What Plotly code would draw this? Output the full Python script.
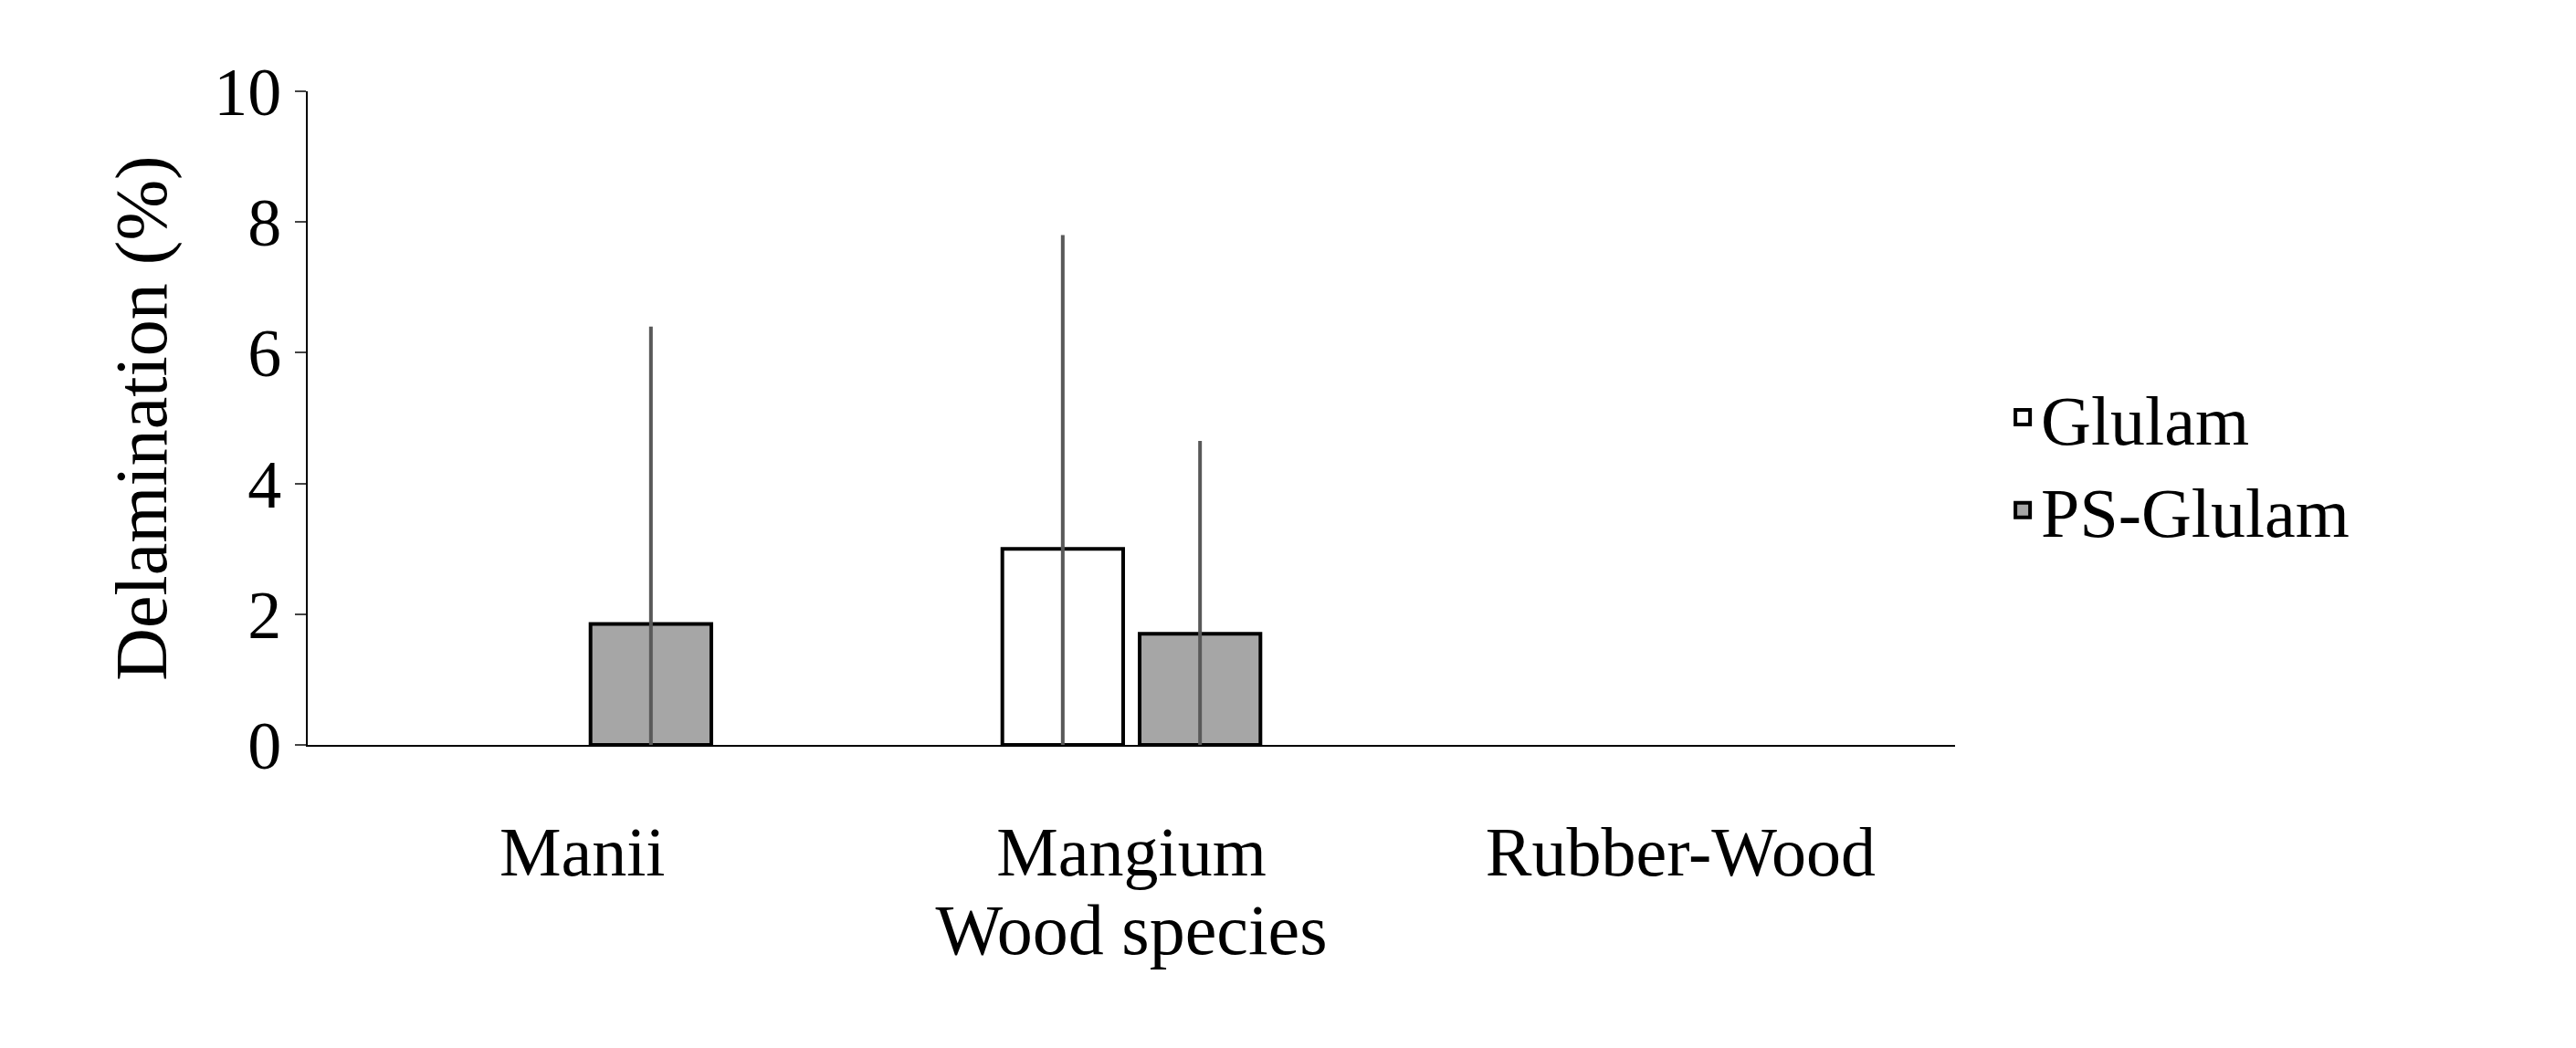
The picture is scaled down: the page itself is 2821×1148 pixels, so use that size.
import plotly.graph_objects as go

species = ["Manii", "Mangium", "Rubber-Wood"]
glulam = [None, 3.0, None]
glulam_err = [0, 4.8, 0]
ps_glulam = [1.85, 1.7, None]
ps_glulam_err = [4.55, 2.95, 0]

font = "Liberation Serif"
err_color = "#595959"

fig = go.Figure()
fig.add_trace(go.Bar(
    x=species, y=glulam, name="Glulam", showlegend=False,
    marker=dict(color="white", line=dict(color="black", width=4)),
    error_y=dict(type="data", array=glulam_err, symmetric=False,
                 arrayminus=[v or 0 for v in glulam],
                 color=err_color, thickness=4, width=0),
))
fig.add_trace(go.Bar(
    x=species, y=ps_glulam, name="PS-Glulam", showlegend=False,
    marker=dict(color="#a6a6a6", line=dict(color="black", width=4)),
    error_y=dict(type="data", array=ps_glulam_err, symmetric=False,
                 arrayminus=[v or 0 for v in ps_glulam],
                 color=err_color, thickness=4, width=0),
))
# legend entries with bigger square swatches
for name, col in [("Glulam", "white"), ("PS-Glulam", "#a6a6a6")]:
    fig.add_trace(go.Scatter(
        x=[None], y=[None], mode="markers", name=name,
        marker=dict(symbol="square", size=34, color=col, line=dict(color="black", width=4)),
    ))

fig.update_layout(
    width=2821, height=1148,
    paper_bgcolor="white", plot_bgcolor="white",
    margin=dict(l=329, r=688, t=92, b=340),
    barmode="group", bargap=0.5, bargroupgap=0.12,
    font=dict(family=font, size=72, color="black"),
    legend=dict(x=1.03, y=0.43, yanchor="middle", font=dict(size=76),
                itemwidth=30, tracegroupgap=30),
    xaxis=dict(showline=True, linecolor="black", linewidth=2, ticks="",
               ticklabelstandoff=50, tickfont=dict(size=76),
               title=dict(text="Wood species", font=dict(size=78), standoff=10)),
    yaxis=dict(range=[0, 10], dtick=2, showline=True, linecolor="black", linewidth=2,
               ticks="outside", ticklen=12, tickwidth=2, showgrid=False, zeroline=False,
               tickfont=dict(size=74),
               title=dict(text="Delamination (%)", font=dict(size=80), standoff=25)),
)
fig.write_html("out.html")
